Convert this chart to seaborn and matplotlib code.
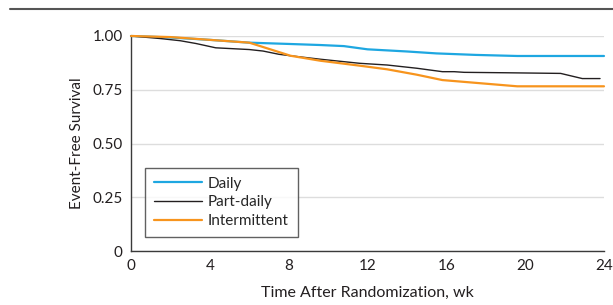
import pandas as pd
import matplotlib.pyplot as plt
import matplotlib.lines as mlines
import seaborn as sns

# Survival curves (weeks, event-free survival)
daily_wk = [0, 2, 4, 6, 8, 9.6, 10.8, 12, 14, 15.5, 17.5, 19.6, 24]
daily_s = [1.0, 0.993, 0.982, 0.969, 0.963, 0.958, 0.953, 0.938, 0.928, 0.919, 0.912, 0.907, 0.907]

part_wk = [0, 1.5, 2.5, 3.3, 4.3, 6, 6.7, 7.5, 8.1, 9.6, 11.6, 13, 14.5, 15.8, 16.4, 16.9, 19, 21.8, 22.9, 23.8]
part_s = [1.0, 0.988, 0.978, 0.965, 0.945, 0.937, 0.930, 0.915, 0.908, 0.892, 0.873, 0.865, 0.850, 0.834, 0.834, 0.831, 0.829, 0.826, 0.802, 0.802]

inter_wk = [0, 2, 4, 6, 7, 8.1, 9.6, 11.6, 13, 14.5, 15.8, 17.5, 19.6, 24]
inter_s = [1.0, 0.995, 0.982, 0.969, 0.94, 0.908, 0.885, 0.862, 0.845, 0.82, 0.795, 0.782, 0.766, 0.766]

groups = ["Daily", "Part-daily", "Intermittent"]
colors = ["#1ea7e1", "#231f20", "#f7941d"]
widths = [1.6, 1.0, 1.6]

xticks = [0, 4, 8, 12, 16, 20, 24]
yticks = [0, 0.25, 0.5, 0.75, 1.0]
ytick_labels = ["0", "0.25", "0.50", "0.75", "1.00"]

df = pd.concat([
    pd.DataFrame({"week": daily_wk, "surv": daily_s, "group": "Daily"}),
    pd.DataFrame({"week": part_wk, "surv": part_s, "group": "Part-daily"}),
    pd.DataFrame({"week": inter_wk, "surv": inter_s, "group": "Intermittent"}),
], ignore_index=True)

sns.set_style("white")
plt.rcParams["font.family"] = ["Lato", "DejaVu Sans"]

fig = plt.figure(figsize=(6.13, 3.05), dpi=100)
ax = fig.add_axes([0.2137, 0.177, 0.7716, 0.705])

for g, c, w in zip(groups, colors, widths):
    sub = df[df["group"] == g]
    sns.lineplot(data=sub, x="week", y="surv", color=c, linewidth=w, ax=ax,
                 clip_on=False, zorder=3, estimator=None, sort=False)

ax.set_xlim(0, 24)
ax.set_ylim(0, 1)
ax.set_xticks(xticks)
ax.set_yticks(yticks)
ax.set_yticklabels(ytick_labels)
ax.yaxis.grid(True, color="#dddddd", linewidth=1)
ax.set_axisbelow(True)

for s in ["top", "right"]:
    ax.spines[s].set_visible(False)
for s in ["left", "bottom"]:
    ax.spines[s].set_color("#3a3a3a")
    ax.spines[s].set_linewidth(1)
ax.tick_params(axis="both", direction="out", length=4, width=1, color="#3a3a3a",
               labelsize=11, labelcolor="#231f20", pad=2)

ax.set_xlabel("Time After Randomization, wk", fontsize=11.5, color="#231f20", labelpad=9)
ax.set_ylabel("Event-Free Survival", fontsize=11, color="#231f20", labelpad=6)

handles = [mlines.Line2D([], [], color=c, linewidth=w) for c, w in zip(colors, widths)]
leg = ax.legend(handles, groups, loc="lower left", bbox_to_anchor=(0.03, 0.065),
                frameon=True, fancybox=False, fontsize=11, handlelength=3.1,
                handletextpad=0.4, labelspacing=0.3, borderpad=0.6, borderaxespad=0)
leg.get_frame().set_edgecolor("#3a3a3a")
leg.get_frame().set_linewidth(1)

fig.add_artist(mlines.Line2D([0.016, 1.0], [0.970, 0.970], color="#555555", linewidth=1.5))

fig.savefig("out.png", dpi=100)
